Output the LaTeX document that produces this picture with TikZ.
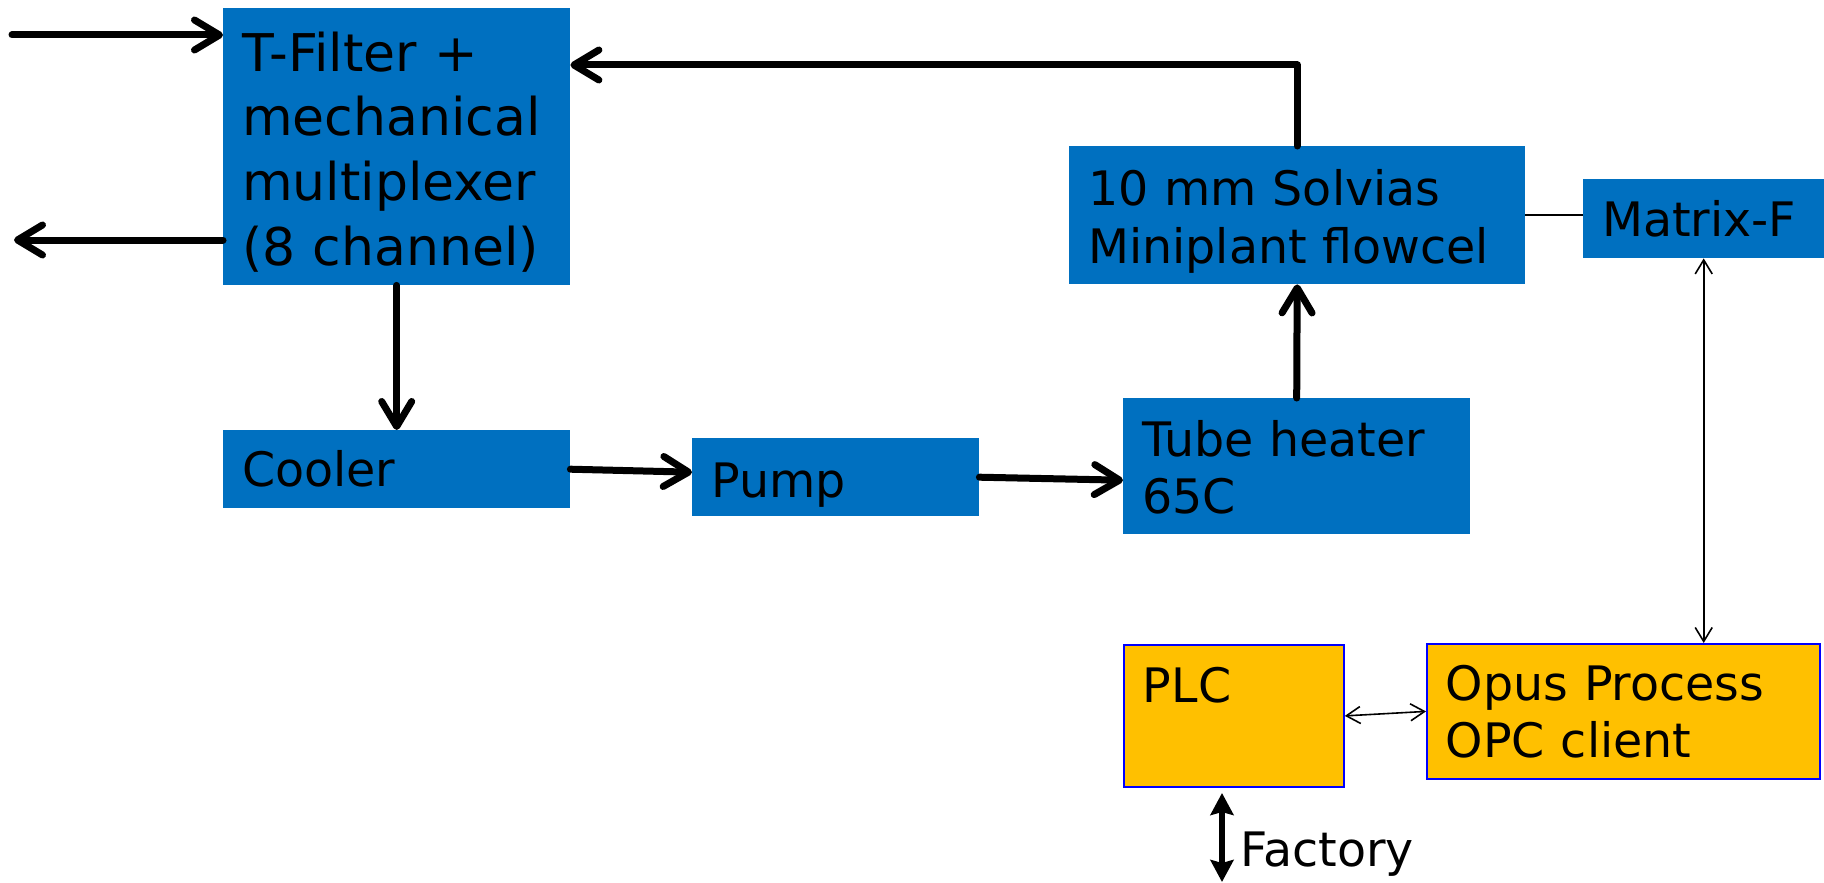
\documentclass[tikz,border=0pt]{standalone}
\usepackage{fontspec}
\setmainfont{DejaVu Sans}
\usetikzlibrary{arrows.meta}
\definecolor{boxblue}{HTML}{0070C0}
\definecolor{boxyellow}{HTML}{FFC000}
\definecolor{edgeblue}{HTML}{0000FF}
\tikzset{
  bluebox/.style={fill=boxblue, draw=none, anchor=north west, inner xsep=19pt, inner ysep=0pt,
    align=left, font=\fontsize{47.5}{57}\selectfont},
  yellowbox/.style={bluebox, fill=boxyellow, draw=edgeblue, line width=1.8pt},
  flow/.style={line width=7pt, line cap=round, line join=round,
    -{Straight Barb[length=25pt,width=30pt,round]}},
  thinline/.style={line width=1.6pt},
  thinarrow/.style={line width=1.6pt,
    {Straight Barb[length=14pt,width=17pt]}-{Straight Barb[length=14pt,width=17pt]}},
  factoryarrow/.style={line width=6.5pt,
    {Stealth[length=22pt,width=23pt,inset=3pt]}-{Stealth[length=22pt,width=23pt,inset=3pt]}},
  labeltext/.style={anchor=base west, inner sep=0pt, font=\fontsize{47.5}{57}\selectfont}
}
\begin{document}
\begin{tikzpicture}[x=1pt,y=-1pt]
\useasboundingbox (0,0) rectangle (1824,883);
% boxes
\node[bluebox, text width=309pt, minimum height=277pt, text height=50pt,
  font=\fontsize{52}{64.7}\selectfont] (tf) at (223,8)
  {T-Filter +\\mechanical\\multiplexer\\(8~channel)};
\node[bluebox, text width=309pt, minimum height=78pt] (cooler) at (223,430) {Cooler};
\node[bluebox, text width=249pt, minimum height=78pt, text height=40pt, text depth=0pt] (pump) at (692,438) {Pump};
\node[bluebox, text width=309pt, minimum height=136pt, text height=39pt] (heater) at (1123,398) {Tube heater\\65C};
\node[bluebox, text width=418pt, minimum height=138pt, text height=48pt,
  font=\fontsize{47.5}{58}\selectfont] (solvias) at (1069,146)
  {10~mm Solvias\\Miniplant~flowcel};
\node[bluebox, text width=203pt, minimum height=79pt] (matrix) at (1583,179) {Matrix-F};
\node[yellowbox, text width=182pt, minimum height=142pt, text height=31pt] (plc) at (1123,644) {PLC\\\mbox{}};
\node[yellowbox, text width=355pt, minimum height=135pt, text height=36pt] (opus) at (1426,643) {Opus~Process\\OPC~client};
% flow connectors
\coordinate (inA) at (12,35);
\coordinate (outA) at (14,240);
\draw[flow] (inA) -- (inA -| tf.west);
\draw[flow] (outA -| tf.west) -- (outA);
\draw[flow] (tf.south) -- (cooler.north);
\draw[flow] (cooler.east) -- ([yshift=5pt]pump.west);
\draw[flow] (pump.east) -- ([yshift=-14pt]heater.west);
\draw[flow] (heater.north) -- (solvias.south);
\coordinate (topY) at (0,65);
\draw[flow] (solvias.north) -- (solvias.north |- topY) -- (tf.east |- topY);
% signal connectors
\coordinate (linkY) at (0,215);
\draw[thinline] (solvias.east |- linkY) -- (matrix.west |- linkY);
\draw[thinarrow] (matrix.south) -- (matrix.south |- opus.north);
\draw[thinarrow] (plc.east) -- (opus.west);
\coordinate (fTop) at (1222,793);
\coordinate (fBot) at (1222,882);
\draw[factoryarrow] (fTop) -- (fBot);
\node[labeltext] (factory) at (1240,866) {Factory};
\end{tikzpicture}
\end{document}
